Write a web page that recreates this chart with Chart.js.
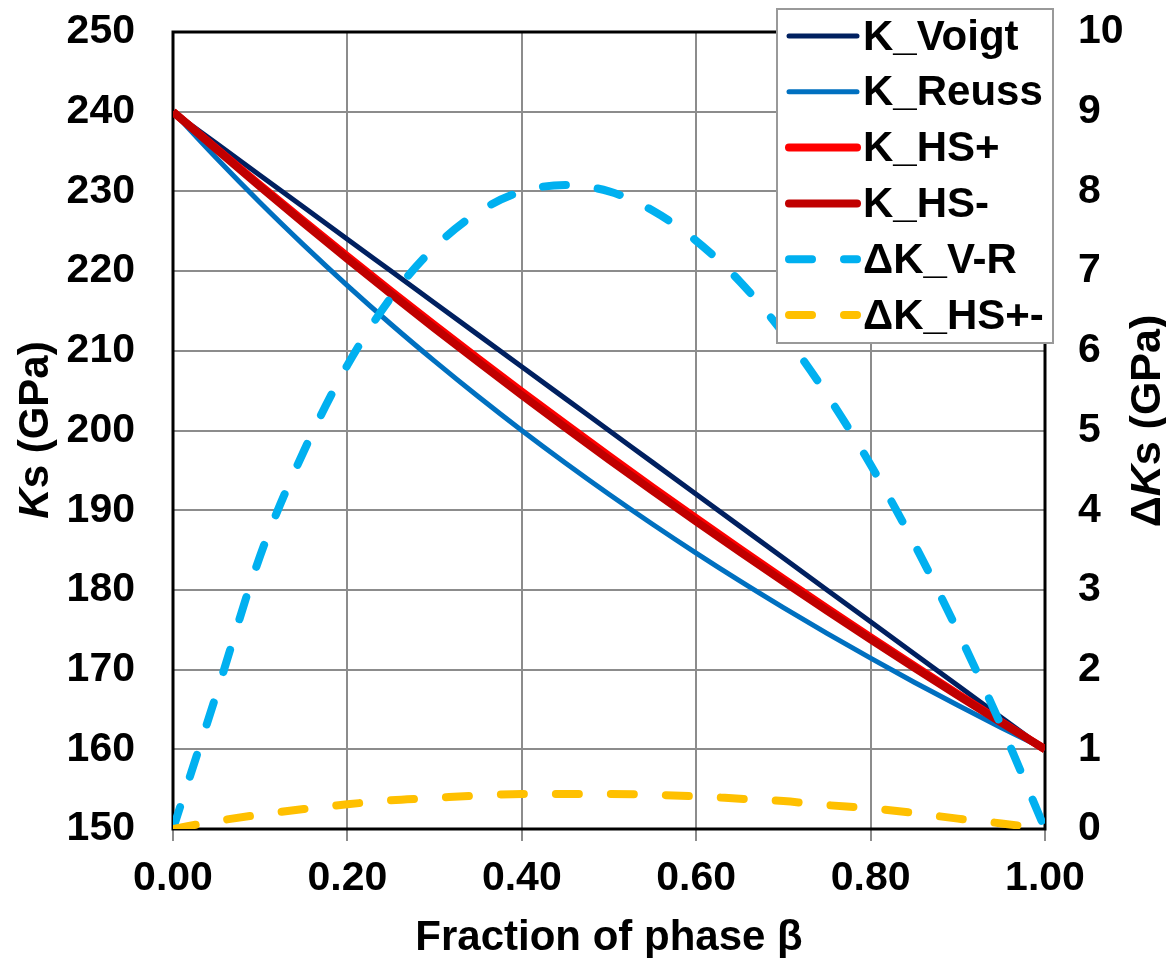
<!DOCTYPE html>
<html><head><meta charset="utf-8">
<script src="https://cdn.jsdelivr.net/npm/chart.js@4"></script>
<style>html,body{margin:0;padding:0;background:#fff}</style>
</head><body>
<canvas id="c" width="1166" height="958"></canvas>
<script>
// ---- data ----
const fraction = [0,0.05,0.10,0.15,0.20,0.25,0.30,0.35,0.40,0.45,0.50,0.55,0.60,0.65,0.70,0.75,0.80,0.85,0.90,0.95,1.00];
const kVoigt   = [240,236,232,228,224,220,216,212,208,204,200,196,192,188,184,180,176,172,168,164,160];
const kReuss   = [240,234.15,228.57,223.26,218.18,213.33,208.70,204.26,200.00,195.92,192.00,188.24,184.62,181.13,177.78,174.55,171.43,168.42,165.52,162.71,160];
const kHSplus  = [240,235.35,230.77,226.27,221.85,217.50,213.22,209.02,204.88,200.81,196.80,192.86,188.98,185.16,181.40,177.69,174.05,170.46,166.91,163.43,160];
const kHSminus = [240,235.25,230.59,226.02,221.54,217.14,212.83,208.60,204.44,200.37,196.36,192.43,188.57,184.78,181.05,177.39,173.79,170.26,166.78,163.36,160];
const dKVR     = [0,1.70,3.43,4.74,5.82,6.67,7.30,7.74,8.00,8.08,8.00,7.76,7.38,6.87,6.22,5.45,4.57,3.58,2.48,1.29,0];
const dKHS     = [0,0.10,0.18,0.25,0.31,0.36,0.39,0.42,0.44,0.44,0.44,0.43,0.41,0.38,0.35,0.30,0.26,0.20,0.13,0.07,0];
const seriesLabels = ['K_Voigt','K_Reuss','K_HS+','K_HS-','\u0394K_V-R','\u0394K_HS+-'];
const xTicks = [0,0.2,0.4,0.6,0.8,1.0];
const yLeftRange = [150,250,10];
const yRightRange = [0,10,1];
const xTitle = 'Fraction of phase \u03b2';

const FONT = '"Liberation Sans", Arial, Helvetica, sans-serif';
const toPts = arr => arr.map((v,i)=>({x:fraction[i], y:v}));
const DASH = [23,32];

const datasets = [
  {label:seriesLabels[0], data:toPts(kVoigt),   borderColor:'#002060', borderWidth:5, yAxisID:'y',  order:6},
  {label:seriesLabels[1], data:toPts(kReuss),   borderColor:'#0070C0', borderWidth:5, yAxisID:'y',  order:5},
  {label:seriesLabels[2], data:toPts(kHSplus),  borderColor:'#FF0000', borderWidth:8, yAxisID:'y',  order:4},
  {label:seriesLabels[3], data:toPts(kHSminus), borderColor:'#C00000', borderWidth:8, yAxisID:'y',  order:3},
  {label:seriesLabels[4], data:toPts(dKVR),     borderColor:'#00B0F0', borderWidth:8, yAxisID:'y2', order:2, borderDash:DASH, borderCapStyle:'round'},
  {label:seriesLabels[5], data:toPts(dKHS),     borderColor:'#FFC000', borderWidth:8, yAxisID:'y2', order:1, borderDash:DASH, borderCapStyle:'round'}
];
datasets.forEach(d=>{ d.pointRadius=0; d.fill=false; d.cubicInterpolationMode='monotone'; });

function drawRotated(ctx, parts, x, y, size){
  ctx.save();
  ctx.translate(x,y); ctx.rotate(-Math.PI/2);
  ctx.textAlign='left'; ctx.textBaseline='alphabetic';
  let total=0;
  const ws = parts.map(p=>{ ctx.font=(p[1]?'italic ':'')+'bold '+size+'px '+FONT; const w=ctx.measureText(p[0]).width; total+=w; return w; });
  let pos=-total/2;
  parts.forEach((p,i)=>{ ctx.font=(p[1]?'italic ':'')+'bold '+size+'px '+FONT; ctx.fillText(p[0],pos,0); pos+=ws[i]; });
  ctx.restore();
}

const framePlugin = {
  id:'frame',
  beforeDatasetsDraw(chart){
    const ctx=chart.ctx, a=chart.chartArea;
    ctx.save();
    ctx.strokeStyle='#000'; ctx.lineWidth=3;
    ctx.strokeRect(a.left, a.top, a.right-a.left, a.bottom-a.top);
    ctx.restore();
  },
  afterDraw(chart){
    const ctx=chart.ctx, a=chart.chartArea;
    ctx.save();
    ctx.fillStyle='#000';
    ctx.font='bold 42px '+FONT;
    ctx.textAlign='center'; ctx.textBaseline='alphabetic';
    ctx.fillText(xTitle,(a.left+a.right)/2,950);
    drawRotated(ctx,[['K',true],['s (GPa)',false]],48,430,42);
    drawRotated(ctx,[['\u0394',false],['K',true],['s (GPa)',false]],1160,421,43);
    // legend
    const bx=a.right-268, by=a.top-23, bw=276, bh=334;
    ctx.fillStyle='#fff';
    ctx.fillRect(bx,by,bw,bh);
    ctx.strokeStyle='#999'; ctx.lineWidth=2;
    ctx.strokeRect(bx,by,bw,bh);
    const ds=chart.data.datasets;
    ds.forEach((d,i)=>{
      const cy=by+27+i*55.8;
      ctx.save();
      ctx.strokeStyle=d.borderColor; ctx.lineWidth=d.borderWidth; ctx.lineCap='round';
      ctx.setLineDash(d.borderDash||[]);
      ctx.beginPath(); ctx.moveTo(bx+12,cy); ctx.lineTo(bx+80,cy); ctx.stroke();
      ctx.restore();
      ctx.fillStyle='#000'; ctx.font='bold 42px '+FONT; ctx.textAlign='left'; ctx.textBaseline='middle';
      ctx.fillText(d.label,bx+86,cy+2);
    });
    ctx.restore();
  }
};

const tickFont = {family:FONT, size:41, weight:'bold'};
function fixY(w){ return s=>{ s.width=w; s.paddingTop=0; s.paddingBottom=0; }; }
new Chart(document.getElementById('c'),{
  type:'line',
  data:{datasets},
  options:{
    responsive:false, animation:false,
    layout:{padding:{top:32,left:0,right:0,bottom:0}},
    plugins:{legend:{display:false}, tooltip:{enabled:false}},
    scales:{
      x:{type:'linear', min:xTicks[0], max:xTicks[xTicks.length-1],
         afterBuildTicks(s){ s.ticks = xTicks.map(v=>({value:v})); },
         afterFit(s){ s.height=129; s.paddingLeft=0; s.paddingRight=0; },
         ticks:{font:tickFont, color:'#000', padding:13, maxRotation:0, callback:v=>Number(v).toFixed(2)},
         grid:{color:'#8c8c8c', lineWidth:2, drawTicks:true, tickLength:12},
         border:{display:false}},
      y:{type:'linear', position:'left', min:yLeftRange[0], max:yLeftRange[1],
         afterFit:fixY(173),
         ticks:{font:tickFont, color:'#000', padding:38, stepSize:yLeftRange[2]},
         grid:{color:'#8c8c8c', lineWidth:2, drawTicks:false},
         border:{display:false}},
      y2:{type:'linear', position:'right', min:yRightRange[0], max:yRightRange[1],
         afterFit:fixY(121),
         ticks:{font:tickFont, color:'#000', padding:33, stepSize:yRightRange[2]},
         grid:{display:false, drawTicks:false},
         border:{display:false}}
    }
  },
  plugins:[framePlugin]
});
</script>
</body></html>
